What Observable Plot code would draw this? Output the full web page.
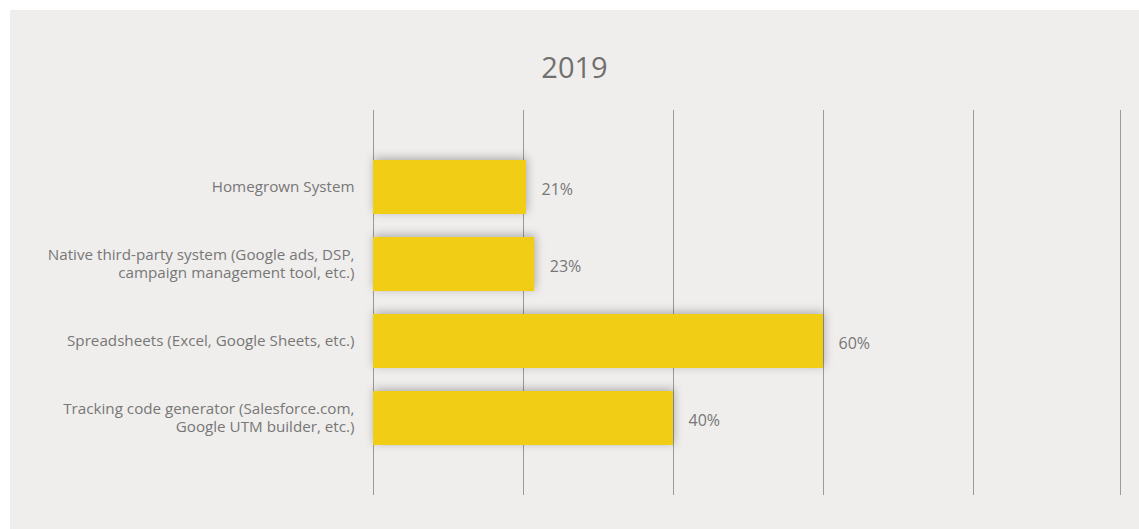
<!DOCTYPE html>
<html>
<head>
<meta charset="utf-8">
<script src="https://cdn.jsdelivr.net/npm/d3@7"></script>
<script src="https://cdn.jsdelivr.net/npm/@observablehq/plot@0.6"></script>
<style>
  html, body { margin: 0; padding: 0; background: #ffffff; }
  #panel { position: absolute; left: 10px; top: 10px; width: 1129px; height: 519px; background: #efeeec; overflow: hidden; }
  #title { height: 100px; box-sizing: border-box; padding-top: 39px; text-align: center; font-family: "Open Sans", sans-serif; font-size: 29px; color: #707070; line-height: 36px; }
  svg { display: block; }
</style>
</head>
<body>
<div id="panel">
  <div id="title">2019</div>
  <div id="chart"></div>
</div>
<script>
const categories = [
  "Homegrown System",
  "Native third-party system (Google ads, DSP,\ncampaign management tool, etc.)",
  "Spreadsheets (Excel, Google Sheets, etc.)",
  "Tracking code generator (Salesforce.com,\nGoogle UTM builder, etc.)"
];
const values = [20.4, 21.5, 60, 40];
const valueLabels = ["21%", "23%", "60%", "40%"];
const gridValues = [0, 20, 40, 60, 80, 99.6];

const data = categories.map((c, i) => ({category: c, value: values[i], label: valueLabels[i]}));

const chart = Plot.plot({
  width: 1129,
  height: 419,
  marginLeft: 363,
  marginRight: 16,
  marginTop: 0,
  marginBottom: 34,
  style: {background: "transparent", fontFamily: "'Open Sans', sans-serif"},
  x: {domain: [0, 100], axis: null},
  y: {domain: categories, axis: null, paddingInner: 0.3, paddingOuter: 0.63},
  marks: [
    Plot.ruleX(gridValues, {x: d => d, stroke: "#9a9a9a", strokeWidth: 1}),
    Plot.barX(data, {x: "value", y: "category", fill: "#f2cd16"}),
    Plot.text(data, {x: "value", y: "category", text: "label", textAnchor: "start", dx: 15, dy: 2, fill: "#777777", fontSize: 16}),
    Plot.text(data, {x: 0, y: "category", text: "category", textAnchor: "end", dx: -19, dy: -1, fill: "#777777", fontSize: 15.2, lineHeight: 1.18})
  ]
});
d3.select(chart).selectAll("g[aria-label='bar'] rect").style("filter", "drop-shadow(1px -2px 5px rgba(0,0,0,0.28))");
document.getElementById("chart").appendChild(chart);
</script>
</body>
</html>
